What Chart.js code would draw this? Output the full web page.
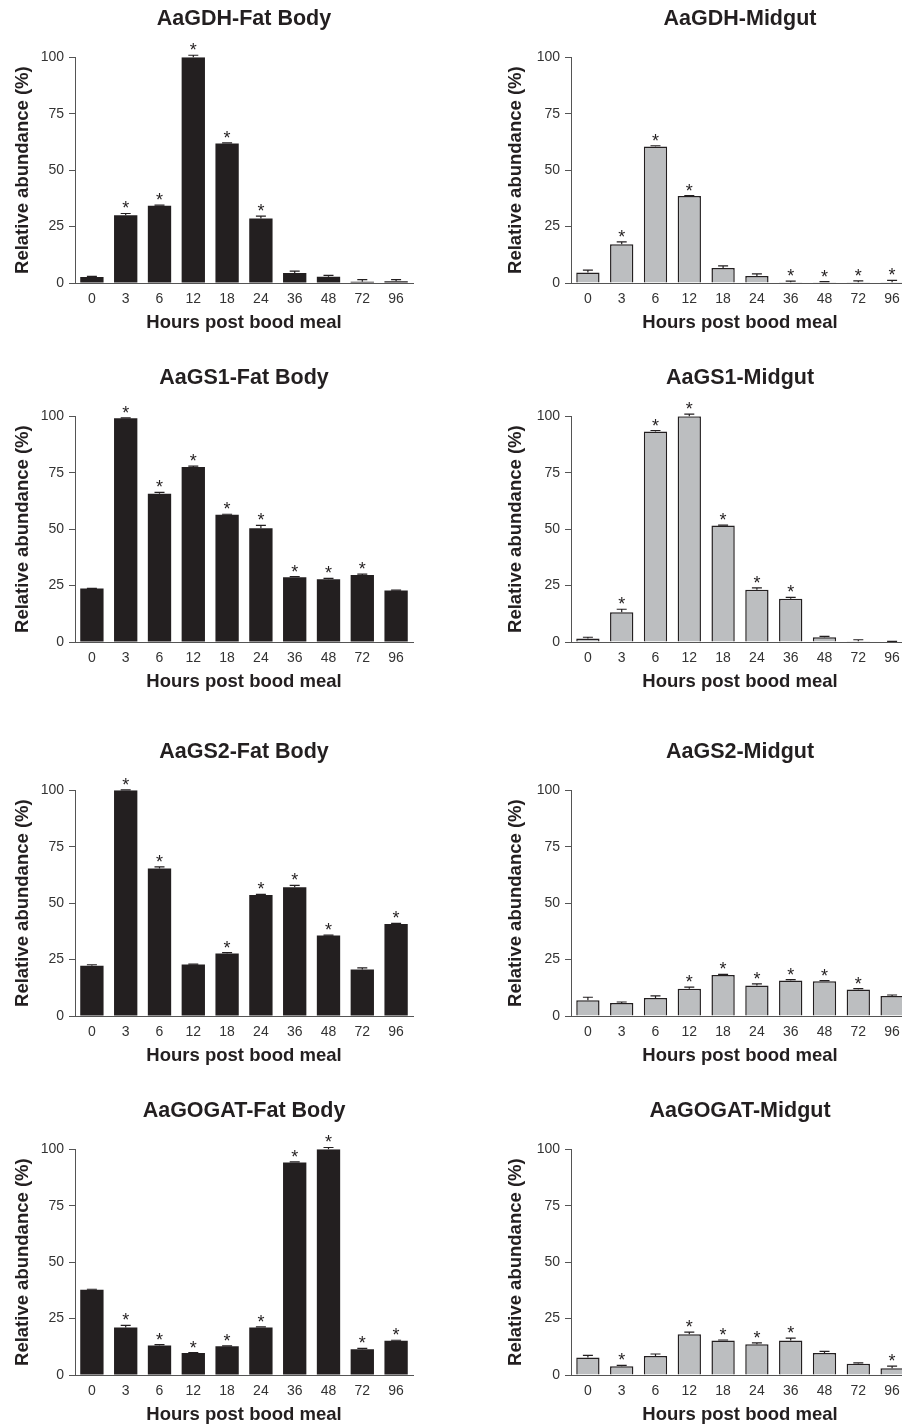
<!DOCTYPE html>
<html>
<head>
<meta charset="utf-8">
<script src="https://cdn.jsdelivr.net/npm/chart.js@4.4.1/dist/chart.umd.min.js"></script>
<style>
  html, body { margin: 0; padding: 0; background: #fff; overflow: hidden; }
  body { width: 902px; height: 1427px; position: relative; }
  canvas { position: absolute; }
</style>
</head>
<body>
<script>
const hours = ['0', '3', '6', '12', '18', '24', '36', '48', '72', '96']

// values, % relative abundance
const gdhFat = [2.7, 30.0, 34.2, 100, 61.8, 28.6, 4.4, 2.8, 0.5, 0.8]
const gdhFatErr = [0.2, 0.8, 0.3, 0.9, 0.3, 1.0, 0.9, 0.6, 1.0, 0.7]
const gdhFatSig = [0, 1, 1, 1, 1, 1, 0, 0, 0, 0]

const gdhGut = [4.7, 17.2, 60.5, 38.5, 6.7, 3.1, 0.3, 0.3, 0.3, 0.3]
const gdhGutErr = [1.0, 1.0, 0.3, 0.2, 0.9, 0.9, 0.5, 0.3, 0.6, 0.9]
const gdhGutSig = [0, 1, 1, 1, 0, 0, 1, 1, 1, 1]

const gs1Fat = [23.7, 99.1, 65.7, 77.5, 56.4, 50.4, 28.7, 27.8, 29.7, 22.8]
const gs1FatErr = [0.1, 0.2, 0.6, 0.4, 0.2, 1.3, 0.3, 0.4, 0.4, 0.2]
const gs1FatSig = [0, 1, 1, 1, 1, 1, 1, 1, 1, 0]

const gs1Gut = [1.5, 13.2, 93.3, 100, 51.6, 23.1, 19.2, 2.1, 0.3, 0.2]
const gs1GutErr = [0.6, 1.3, 0.4, 1.0, 0.2, 0.9, 0.6, 0.4, 0.7, 0.1]
const gs1GutSig = [0, 1, 1, 1, 1, 1, 1, 0, 0, 0]

const gs2Fat = [22.3, 100, 65.4, 22.8, 27.7, 53.6, 57.0, 35.7, 20.6, 40.8]
const gs2FatErr = [0.4, 0.2, 0.7, 0.2, 0.4, 0.3, 0.9, 0.1, 0.7, 0.2]
const gs2FatSig = [0, 1, 1, 0, 1, 1, 1, 1, 0, 1]

const gs2Gut = [7.0, 5.8, 8.0, 12.1, 18.2, 13.5, 15.7, 15.4, 11.7, 8.9]
const gs2GutErr = [1.3, 0.4, 0.9, 0.7, 0.2, 0.7, 0.4, 0.3, 0.4, 0.4]
const gs2GutSig = [0, 0, 0, 1, 1, 1, 1, 1, 1, 0]

const gogatFat = [37.8, 21.0, 13.1, 9.7, 12.7, 21.0, 94.2, 100, 11.4, 15.2]
const gogatFatErr = [0.2, 1.0, 0.4, 0.2, 0.2, 0.3, 0.2, 0.8, 0.4, 0.2]
const gogatFatSig = [0, 1, 1, 1, 1, 1, 1, 1, 1, 1]

const gogatGut = [7.7, 3.9, 8.4, 18.1, 15.3, 13.6, 15.3, 9.8, 5.0, 3.0]
const gogatGutErr = [1.0, 0.4, 0.9, 0.9, 0.2, 0.6, 1.0, 0.7, 0.4, 0.9]
const gogatGutSig = [0, 1, 0, 1, 1, 1, 1, 0, 0, 1]

const titles = [
  ['AaGDH-Fat Body', 'AaGDH-Midgut'],
  ['AaGS1-Fat Body', 'AaGS1-Midgut'],
  ['AaGS2-Fat Body', 'AaGS2-Midgut'],
  ['AaGOGAT-Fat Body', 'AaGOGAT-Midgut'],
]
const series = [
  [[gdhFat, gdhFatErr, gdhFatSig], [gdhGut, gdhGutErr, gdhGutSig]],
  [[gs1Fat, gs1FatErr, gs1FatSig], [gs1Gut, gs1GutErr, gs1GutSig]],
  [[gs2Fat, gs2FatErr, gs2FatSig], [gs2Gut, gs2GutErr, gs2GutSig]],
  [[gogatFat, gogatFatErr, gogatFatSig], [gogatGut, gogatGutErr, gogatGutSig]],
]

const FONT = '"Liberation Sans", Arial, Helvetica, sans-serif'
const INK = '#231f20'
const rowTops = [0, 359, 733, 1092]
const PLOT_W = 338
// left edge of canvas, width of the y axis box, padding of the y title
const cols = [
  { left: 0, axisW: 75, titlePad: 12 },
  { left: 480, axisW: 91, titlePad: 25 },
]

const errorBars = {
  id: 'errorBars',
  afterDatasetsDraw(chart) {
    const { ctx } = chart
    const y = chart.scales.y
    const ds = chart.data.datasets[0]
    const meta = chart.getDatasetMeta(0)
    ctx.save()
    ctx.strokeStyle = INK
    ctx.fillStyle = INK
    ctx.lineWidth = 1.2
    ctx.textAlign = 'center'
    ctx.textBaseline = 'alphabetic'
    ctx.font = '18px ' + FONT
    meta.data.forEach((bar, i) => {
      const top = y.getPixelForValue(ds.data[i] + ds.errors[i])
      ctx.beginPath()
      ctx.moveTo(bar.x, bar.y)
      ctx.lineTo(bar.x, top)
      ctx.moveTo(bar.x - 5, top)
      ctx.lineTo(bar.x + 5, top)
      ctx.stroke()
      if (ds.stars[i]) ctx.fillText('*', bar.x, top + 1)
    })
    ctx.restore()
  }
}

titles.forEach((row, r) => {
  row.forEach((title, c) => {
    const col = cols[c]
    const [values, errors, stars] = series[r][c]
    const canvas = document.createElement('canvas')
    // same empty box on the right so the title sits over the plot area
    canvas.width = col.axisW * 2 + PLOT_W
    canvas.height = 335
    canvas.style.left = col.left + 'px'
    canvas.style.top = rowTops[r] + 'px'
    document.body.appendChild(canvas)

    const midgut = c === 1
    new Chart(canvas, {
      type: 'bar',
      data: {
        labels: hours,
        datasets: [{
          data: values,
          errors: errors,
          stars: stars,
          backgroundColor: midgut ? '#bcbec0' : INK,
          borderColor: INK,
          borderWidth: midgut ? 1.5 : 0,
          barPercentage: 0.69,
          categoryPercentage: 1,
        }]
      },
      options: {
        responsive: false,
        animation: false,
        devicePixelRatio: 1,
        layout: { padding: 0 },
        plugins: {
          legend: { display: false },
          tooltip: { enabled: false },
          title: {
            display: true,
            text: title,
            color: INK,
            font: { family: FONT, size: 21.5, weight: 'bold', lineHeight: 1.2 },
            padding: { top: 6, bottom: 25.5 },
          },
        },
        scales: {
          x: {
            grid: { display: false, drawTicks: false },
            border: { display: true, color: '#555', width: 1 },
            ticks: { color: '#333', padding: 8, font: { family: FONT, size: 14 } },
            title: {
              display: true,
              text: 'Hours post bood meal',
              color: INK,
              font: { family: FONT, size: 18.5, weight: 'bold', lineHeight: 1.2 },
              padding: { top: 0, bottom: 1 },
            },
            afterFit(scale) { scale.height = 52 },
          },
          y: {
            min: 0,
            max: 100,
            grid: { display: true, drawOnChartArea: false, drawTicks: true, tickLength: 6, color: '#555' },
            border: { display: true, color: '#555', width: 1 },
            ticks: { stepSize: 25, color: '#333', padding: 5, font: { family: FONT, size: 14 } },
            title: {
              display: true,
              text: 'Relative abundance (%)',
              color: INK,
              font: { family: FONT, size: 18.5, weight: 'bold', lineHeight: 1.2 },
              padding: { top: col.titlePad, bottom: 0 },
            },
            afterFit(scale) { scale.width = col.axisW },
          },
          pad: {
            position: 'right',
            min: 0,
            max: 100,
            grid: { display: false },
            border: { display: false },
            ticks: { display: false },
            afterFit(scale) { scale.width = col.axisW },
          },
        },
      },
      plugins: [errorBars],
    })
  })
})
</script>
</body>
</html>
